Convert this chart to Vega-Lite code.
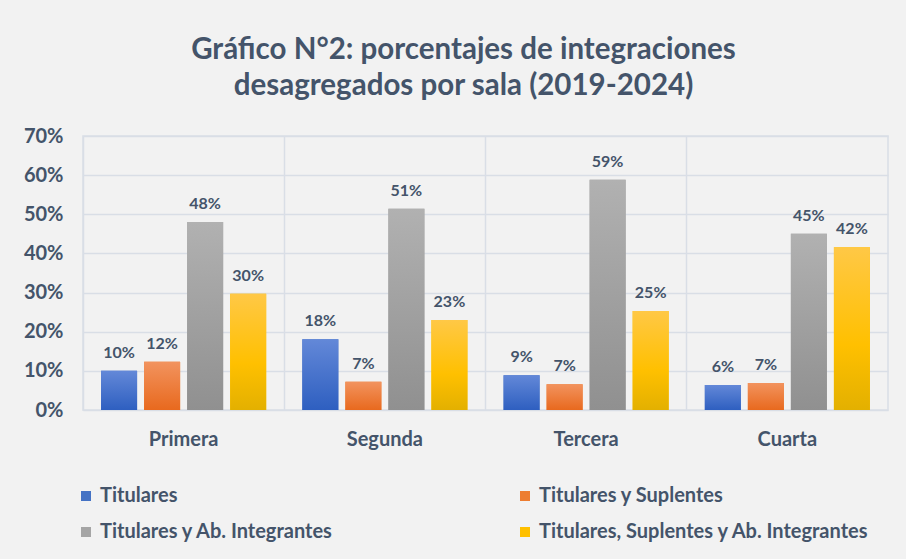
{
  "$schema": "https://vega.github.io/schema/vega-lite/v6.json",
  "autosize": "none",
  "width": 805,
  "height": 274,
  "padding": {"left": 83, "top": 136, "right": 18, "bottom": 149},
  "background": "#f2f2f2",
  "title": {
    "text": ["Gráfico N°2: porcentajes de integraciones", "desagregados por sala (2019-2024)"],
    "font": "Lato",
    "fontSize": 29.5,
    "fontWeight": "bold",
    "color": "#44546a",
    "anchor": "middle",
    "dx": -22,
    "offset": 25,
    "lineHeight": 36
  },
  "data": {
    "values": [
      {"sala": "Primera", "serie": "Titulares", "valor": 0.100},
      {"sala": "Primera", "serie": "Titulares y Suplentes", "valor": 0.123},
      {"sala": "Primera", "serie": "Titulares y Ab. Integrantes", "valor": 0.480},
      {"sala": "Primera", "serie": "Titulares, Suplentes y Ab. Integrantes", "valor": 0.297},
      {"sala": "Segunda", "serie": "Titulares", "valor": 0.181},
      {"sala": "Segunda", "serie": "Titulares y Suplentes", "valor": 0.072},
      {"sala": "Segunda", "serie": "Titulares y Ab. Integrantes", "valor": 0.514},
      {"sala": "Segunda", "serie": "Titulares, Suplentes y Ab. Integrantes", "valor": 0.230},
      {"sala": "Tercera", "serie": "Titulares", "valor": 0.089},
      {"sala": "Tercera", "serie": "Titulares y Suplentes", "valor": 0.066},
      {"sala": "Tercera", "serie": "Titulares y Ab. Integrantes", "valor": 0.588},
      {"sala": "Tercera", "serie": "Titulares, Suplentes y Ab. Integrantes", "valor": 0.253},
      {"sala": "Cuarta", "serie": "Titulares", "valor": 0.064},
      {"sala": "Cuarta", "serie": "Titulares y Suplentes", "valor": 0.069},
      {"sala": "Cuarta", "serie": "Titulares y Ab. Integrantes", "valor": 0.450},
      {"sala": "Cuarta", "serie": "Titulares, Suplentes y Ab. Integrantes", "valor": 0.416}
    ]
  },
  "encoding": {
    "x": {
      "field": "sala",
      "type": "nominal",
      "sort": ["Primera", "Segunda", "Tercera", "Cuarta"],
      "scale": {"paddingInner": 0, "paddingOuter": 0},
      "axis": {
        "title": null,
        "labelAngle": 0,
        "labelFont": "Lato",
        "labelFontSize": 20,
        "labelFontWeight": "bold",
        "labelColor": "#44546a",
        "labelPadding": 19,
        "ticks": false,
        "domain": false,
        "grid": true,
        "bandPosition": 0,
        "gridColor": "#d9dee6",
        "gridWidth": 1.5
      }
    },
    "xOffset": {
      "field": "serie",
      "type": "nominal",
      "sort": ["Titulares", "Titulares y Suplentes", "Titulares y Ab. Integrantes", "Titulares, Suplentes y Ab. Integrantes"],
      "scale": {"paddingInner": 0.163, "paddingOuter": 0.42}
    },
    "y": {
      "field": "valor",
      "type": "quantitative",
      "scale": {"domain": [0, 0.7]},
      "axis": {
        "title": null,
        "format": ".0%",
        "values": [0, 0.1, 0.2, 0.3, 0.4, 0.5, 0.6, 0.7],
        "labelFont": "Lato",
        "labelFontSize": 20,
        "labelFontWeight": "bold",
        "labelColor": "#44546a",
        "labelPadding": 20,
        "ticks": false,
        "domain": false,
        "gridColor": "#d9dee6",
        "gridWidth": 1.5
      }
    }
  },
  "layer": [
    {
      "mark": {"type": "bar"},
      "encoding": {
        "color": {
          "field": "serie",
          "type": "nominal",
          "sort": ["Titulares", "Titulares y Suplentes", "Titulares y Ab. Integrantes", "Titulares, Suplentes y Ab. Integrantes"],
          "scale": {
            "domain": ["Titulares", "Titulares y Suplentes", "Titulares y Ab. Integrantes", "Titulares, Suplentes y Ab. Integrantes"],
            "range": ["#4472c4", "#ed7d31", "#a5a5a5", "#ffc000"]
          },
          "legend": {
            "title": null,
            "orient": "none",
            "direction": "horizontal",
            "legendX": -7,
            "legendY": 350,
            "columns": 2,
            "columnPadding": 181,
            "rowPadding": 16,
            "symbolType": "square",
            "symbolSize": 100,
            "symbolStrokeWidth": 0,
            "labelFont": "Lato",
            "labelFontSize": 20,
            "labelFontWeight": "bold",
            "labelColor": "#44546a",
            "labelOffset": 4,
            "labelLimit": 500
          }
        }
      }
    },
    {
      "transform": [{"filter": "datum.serie === 'Titulares'"}],
      "mark": {"type": "bar", "fill": {"gradient": "linear", "x1": 0, "y1": 0, "x2": 0, "y2": 1, "stops": [{"offset": 0, "color": "#6388d8"}, {"offset": 1, "color": "#2e5fc0"}]}},
      "encoding": {}
    },
    {
      "transform": [{"filter": "datum.serie === 'Titulares y Suplentes'"}],
      "mark": {"type": "bar", "fill": {"gradient": "linear", "x1": 0, "y1": 0, "x2": 0, "y2": 1, "stops": [{"offset": 0, "color": "#f2935e"}, {"offset": 1, "color": "#e8691e"}]}},
      "encoding": {}
    },
    {
      "transform": [{"filter": "datum.serie === 'Titulares y Ab. Integrantes'"}],
      "mark": {"type": "bar", "fill": {"gradient": "linear", "x1": 0, "y1": 0, "x2": 0, "y2": 1, "stops": [{"offset": 0, "color": "#b1b1b1"}, {"offset": 1, "color": "#909090"}]}},
      "encoding": {}
    },
    {
      "transform": [{"filter": "datum.serie === 'Titulares, Suplentes y Ab. Integrantes'"}],
      "mark": {"type": "bar", "fill": {"gradient": "linear", "x1": 0, "y1": 0, "x2": 0, "y2": 1, "stops": [{"offset": 0, "color": "#ffc846"}, {"offset": 0.6, "color": "#ffc000"}, {"offset": 1, "color": "#e3b000"}]}},
      "encoding": {}
    },
    {
      "mark": {"type": "text", "baseline": "alphabetic", "dy": -13, "font": "Lato", "fontSize": 16, "fontWeight": "bold", "color": "#44546a"},
      "encoding": {
        "text": {"field": "valor", "type": "quantitative", "format": ".0%"}
      }
    }
  ],
  "config": {
    "view": {"stroke": "#d9dee6", "strokeWidth": 1.5},
    "axis": {"gridColor": "#d9dee6"}
  }
}
